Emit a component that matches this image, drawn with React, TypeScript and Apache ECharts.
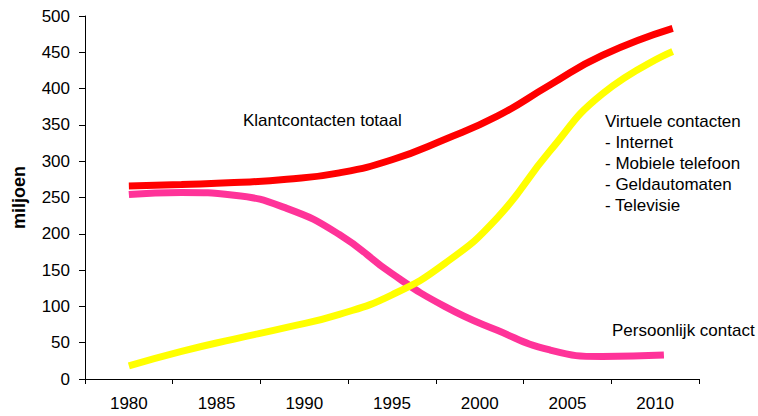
import React, { useEffect, useRef } from "react";
import * as echarts from "echarts";

const yearLabels = ["1980", "1985", "1990", "1995", "2000", "2005", "2010"];
const startYear = 1977.5;

const years = [1980, 1983, 1986, 1989, 1992, 1995, 1998, 2001, 2004, 2007, 2011];
const totaal = [266, 268, 270.5, 275, 284, 302, 330, 362, 405, 446, 483];
const virtueel = [18, 38, 55, 71, 89, 116, 159, 222, 314, 393, 451];
const pinkYears = [1980, 1983, 1986, 1989, 1992, 1995, 1998, 2001, 2004, 2007, 2010.5];
const persoonlijk = [254, 257, 253, 235, 199, 145, 100, 67, 40, 31, 33];

const FONT = "'Liberation Sans', Arial, sans-serif";

export default function App() {
  const ref = useRef<HTMLDivElement>(null);
  useEffect(() => {
    if (!ref.current) return;
    const chart = echarts.init(ref.current, null, { renderer: "svg" });
    const toPts = (xs: number[], ys: number[]) => xs.map((x, i) => [x - startYear, ys[i]]);
    const lineSeries = (name: string, xs: number[], ys: number[], color: string) => ({
      name,
      type: "line",
      xAxisIndex: 0,
      data: toPts(xs, ys),
      smooth: 0.5,
      showSymbol: false,
      symbol: "none",
      lineStyle: { color, width: 7, cap: "butt" },
    });
    chart.setOption({
      animation: false,
      textStyle: { fontFamily: FONT },
      grid: { left: 85, right: 59, top: 16, bottom: 37 },
      xAxis: [
        {
          type: "value",
          min: 0,
          max: 35,
          interval: 5,
          axisLine: { show: true, lineStyle: { color: "#000", width: 1 } },
          axisTick: { show: true, length: 5, lineStyle: { color: "#000" } },
          axisLabel: { show: false },
          splitLine: { show: false },
        },
        {
          type: "category",
          position: "bottom",
          data: yearLabels,
          boundaryGap: true,
          axisLine: { show: false },
          axisTick: { show: false },
          splitLine: { show: false },
          axisLabel: { color: "#000", fontSize: 17, fontFamily: FONT, margin: 16 },
        },
      ],
      yAxis: {
        type: "value",
        min: 0,
        max: 500,
        interval: 50,
        name: "miljoen",
        nameLocation: "middle",
        nameGap: 57,
        nameRotate: 90,
        nameTextStyle: { color: "#000", fontSize: 18, fontWeight: "bold", fontFamily: FONT },
        axisLine: { show: true, lineStyle: { color: "#000", width: 1 } },
        axisTick: { show: true, length: 6, lineStyle: { color: "#000" } },
        axisLabel: { color: "#000", fontSize: 17, fontFamily: FONT, margin: 15 },
        splitLine: { show: false },
      },
      series: [
        lineSeries("Persoonlijk contact", pinkYears, persoonlijk, "#FF3399"),
        lineSeries("Virtuele contacten", years, virtueel, "#FFFF00"),
        lineSeries("Klantcontacten totaal", years, totaal, "#FF0000"),
      ],
      graphic: [
        {
          type: "text",
          left: 243,
          top: 112,
          style: { text: "Klantcontacten totaal", fill: "#000", font: `17px ${FONT}` },
        },
        {
          type: "text",
          left: 605,
          top: 111,
          style: {
            text: "Virtuele contacten\n- Internet\n- Mobiele telefoon\n- Geldautomaten\n- Televisie",
            fill: "#000",
            font: `17px ${FONT}`,
            lineHeight: 21,
          },
        },
        {
          type: "text",
          left: 612,
          top: 322,
          style: { text: "Persoonlijk contact", fill: "#000", font: `17px ${FONT}` },
        },
      ],
    });
    return () => chart.dispose();
  }, []);
  return <div ref={ref} style={{ width: 758, height: 416, position: "absolute", left: 0, top: 0 }} />;
}
